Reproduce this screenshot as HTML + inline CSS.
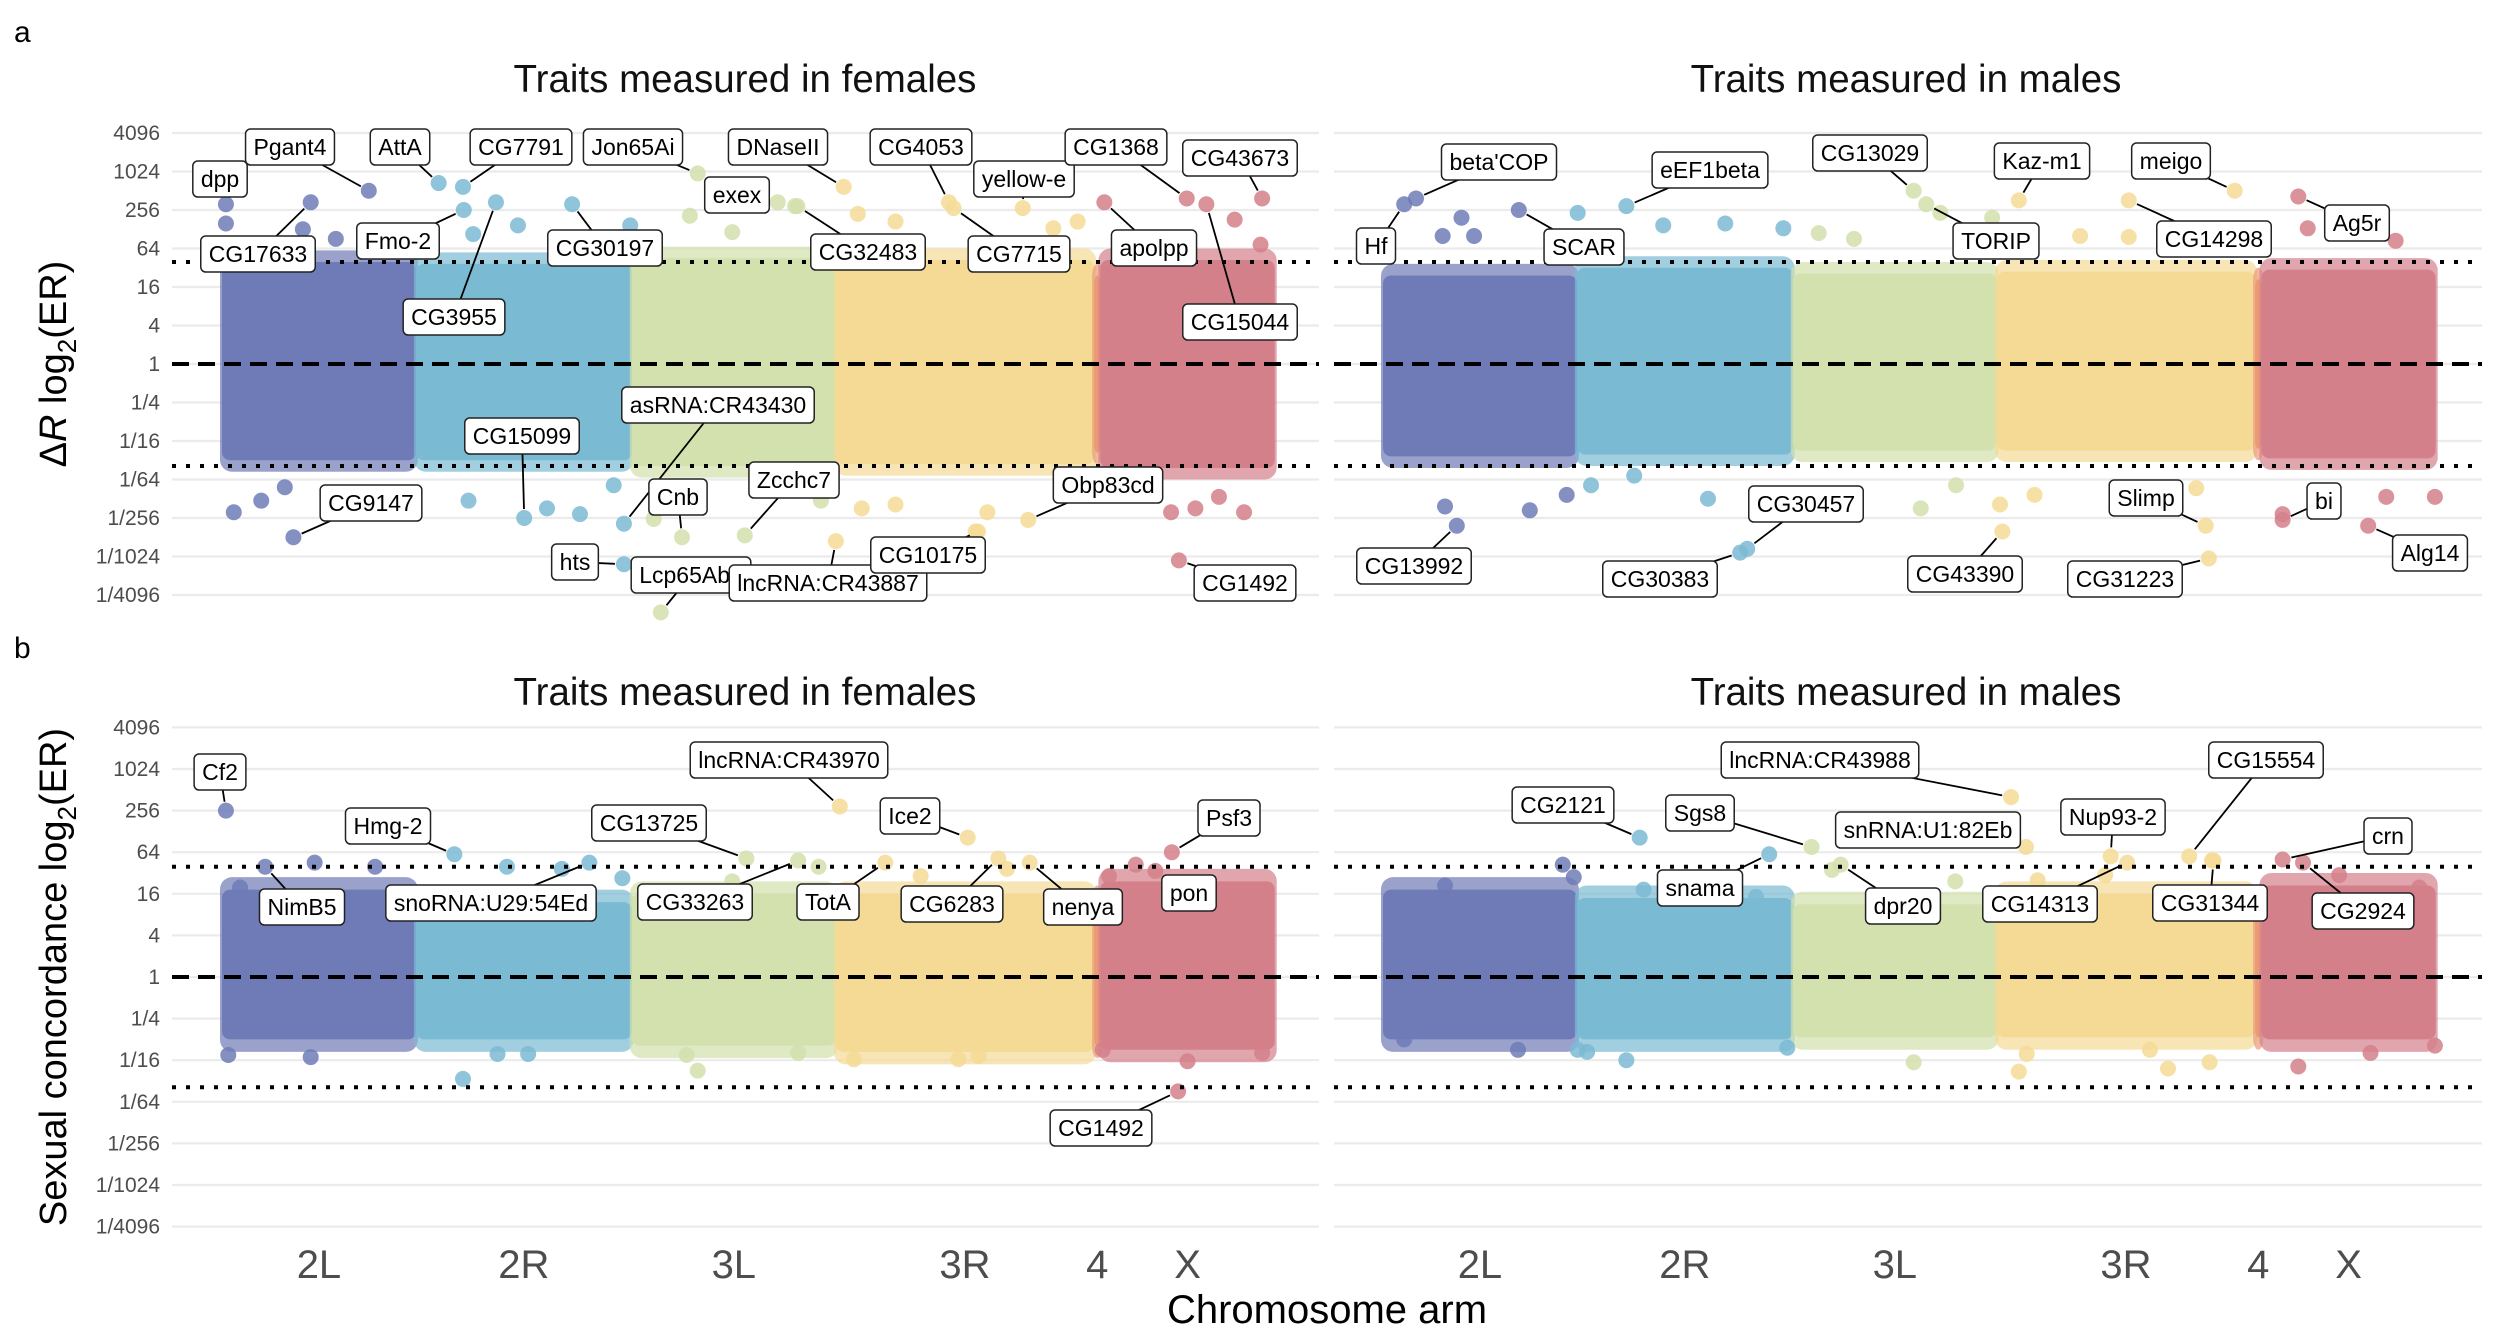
<!DOCTYPE html>
<html><head><meta charset="utf-8">
<style>
html,body{margin:0;padding:0;background:#fff;}
svg{display:block;font-family:"Liberation Sans",Arial,sans-serif;}
</style></head>
<body>
<svg id="chart" width="2496" height="1344" viewBox="0 0 2496 1344" xmlns="http://www.w3.org/2000/svg">
<text x="14" y="42" font-size="30" fill="#000">a</text>
<text x="14" y="658" font-size="30" fill="#000">b</text>
<text x="745" y="92" font-size="38.5" text-anchor="middle" fill="#111">Traits measured in females</text>
<text x="1906" y="92" font-size="38.5" text-anchor="middle" fill="#111">Traits measured in males</text>
<text x="745" y="705" font-size="38.5" text-anchor="middle" fill="#111">Traits measured in females</text>
<text x="1906" y="705" font-size="38.5" text-anchor="middle" fill="#111">Traits measured in males</text>
<text transform="translate(66,364) rotate(-90)" font-size="38" text-anchor="middle" fill="#000">Δ<tspan font-style="italic">R</tspan> log<tspan font-size="26" dy="10">2</tspan><tspan dy="-10">(ER)</tspan></text>
<text transform="translate(66,977) rotate(-90)" font-size="38" text-anchor="middle" fill="#000">Sexual concordance log<tspan font-size="26" dy="10">2</tspan><tspan dy="-10">(ER)</tspan></text>
<text x="1327" y="1323" font-size="40" text-anchor="middle" fill="#000">Chromosome arm</text>
<g id="layer"></g>
</svg>
<script>
// ---- data ----
var armNames = ["2L","2R","3L","3R","4","X"];
var armStart = [0, 24.7, 52.2, 78.2, 111.1, 111.9];
var armEnd   = [24.7, 52.2, 78.2, 111.1, 111.9, 134.1];
var armColors = ["#6f7bb7","#7bbad3","#d2e1ad","#f4da95","#eb9a78","#d4808a"];
var yTickVals = [12,10,8,6,4,2,0,-2,-4,-6,-8,-10,-12];
var yTickLabels = ["4096","1024","256","64","16","4","1","1/4","1/16","1/64","1/256","1/1024","1/4096"];
var thresholdHi = 5.3, thresholdLo = -5.3;

// band extents (upper, lower) per arm, in log2 units
var bandFa = [[5.3,-5.0],[5.2,-5.0],[5.5,-5.3],[5.4,-5.2],[4.6,-4.6],[5.4,-5.4]];
var bandMa = [[4.6,-4.8],[5.0,-4.7],[4.7,-4.5],[4.8,-4.5],[4.4,-4.4],[4.9,-4.9]];
var bandFb = [[4.2,-3.0],[3.6,-3.0],[4.0,-3.3],[4.0,-3.6],[3.8,-3.3],[4.6,-3.5]];
var bandMb = [[4.2,-3.0],[3.8,-3.0],[3.5,-2.9],[4.0,-2.9],[3.8,-2.9],[4.4,-3.0]];

// scattered points: positions (Mb-like cumulative) and values (log2)
var fringeFaPos = [0.5,10.3,14.5,1.5,5,32,37.7,52,31.4,41.4,45.6,49.9,59.6,73,65,55,76.3,85.8,109,81,105.9,81.5,85.8,97.5,96,129,132.3,120.9,124,130.2,127,20,8,60];
var fringeFaVal = [7.3,7.0,6.5,-7.7,-7.1,6.75,7.2,7.2,-7.1,-7.5,-7.8,-6.3,7.7,8.2,6.85,-8.05,-7.1,7.4,7.4,7.8,7.05,-7.5,-7.3,-7.7,-8.7,7.5,6.2,-7.7,-7.5,-7.7,-6.9,6.6,-6.4,-6.6];
var fringeMaPos = [10,11.6,7.6,24.8,35.7,43.6,51,55.5,71,77.6,88.8,117.8,129,7.9,18.7,23.4,26.5,32,41.4,68.5,73,78.6,83,134,127.8,114.6,103.6,60,95];
var fringeMaVal = [7.6,6.65,6.65,7.85,7.2,7.3,7.05,6.8,7.85,7.6,6.65,7.05,6.4,-7.4,-7.6,-6.8,-6.3,-5.8,-7.0,-7.5,-6.3,-7.3,-6.8,-6.9,-6.9,-7.8,-6.45,6.5,6.6];
var fringeFbPos = [11.8,19.5,2.3,36.3,43.3,51,76,89,116.4,113,0.8,11.3,30.7,35.1,39,60.6,59.2,73.4,80.5,93.8,96.4,112.2,123,132.5,100,65];
var fringeFbVal = [5.5,5.3,4.3,5.3,5.2,4.75,5.3,4.85,5.4,4.85,-3.75,-3.85,-4.9,-3.7,-3.7,-4.5,-3.75,-3.65,-3.95,-3.95,-3.8,-3.5,-4.05,-3.65,5.2,4.6];
var fringeMbPos = [22.9,24.3,7.9,33.2,47.5,57.2,72.9,83.4,105.6,121.8,132,2.7,17.2,24.8,31,26,51.5,67.6,81,82,97.7,105.3,116.6,125.8,134,92,100];
var fringeMbVal = [5.4,4.8,4.4,4.2,3.85,5.15,4.6,4.65,5.6,4.9,4.3,-3.0,-3.5,-3.5,-4.0,-3.6,-3.4,-4.1,-4.55,-3.7,-3.5,-4.1,-4.3,-3.65,-3.3,4.9,-4.4];

// labelled genes
var labFaNames = ["dpp","Pgant4","CG17633","AttA","CG7791","Fmo-2","CG3955","Jon65Ai","CG30197","exex","DNaseII","CG32483","CG4053","yellow-e","CG7715","CG1368","CG43673","apolpp","CG15044","asRNA:CR43430","CG15099","CG9147","Cnb","hts","Zcchc7","Lcp65Ab1","lncRNA:CR43887","CG10175","Obp83cd","CG1492"];
var labFaPos = [0.5,18.7,11.3,27.6,30.7,30.8,34.9,60.6,44.6,70.8,79.2,73.3,92.6,102,93.2,122.9,132.5,112.4,125.4,51.2,38.5,9.1,58.6,51.2,66.6,55.9,78.2,96.3,102.7,121.9];
var labFaVal = [8.3,9.0,8.4,9.4,9.2,8.0,8.4,9.9,8.3,8.4,9.2,8.2,8.4,8.1,8.1,8.6,8.6,8.4,8.3,-8.3,-8.0,-9.0,-9.0,-10.4,-8.9,-12.9,-9.2,-8.7,-8.1,-10.2];
var labMaNames = ["Hf","beta'COP","SCAR","eEF1beta","CG13029","TORIP","Kaz-m1","meigo","CG14298","Ag5r","CG13992","CG30457","CG30383","CG43390","Slimp","CG31223","bi","Alg14"];
var labMaPos = [2.7,4.2,17.3,31.0,67.6,69.2,81.0,108.5,95.0,116.6,9.4,46.4,45.5,78.9,104.8,105.2,114.6,125.5];
var labMaVal = [8.3,8.6,8.0,8.2,9.0,8.3,8.5,9.0,8.5,8.7,-8.4,-9.6,-9.8,-8.7,-8.4,-10.1,-8.1,-8.4];
var labFbNames = ["Cf2","NimB5","Hmg-2","snoRNA:U29:54Ed","CG13725","lncRNA:CR43970","CG33263","TotA","Ice2","CG6283","nenya","Psf3","pon","CG1492"];
var labFbPos = [0.5,5.5,29.6,46.8,66.8,78.7,73.4,84.5,95.0,98.9,102.9,121.0,118.9,121.8];
var labFbVal = [8.0,5.3,5.9,5.5,5.7,8.2,5.6,5.5,6.7,5.7,5.5,6.0,5.1,-5.5];
var labMbNames = ["CG2121","Sgs8","snama","lncRNA:CR43988","snRNA:U1:82Eb","dpr20","Nup93-2","CG14313","CG15554","CG31344","crn","CG2924"];
var labMbPos = [32.7,54.6,49.2,80,81.9,58.3,92.7,94.8,102.7,105.8,114.6,117.2];
var labMbVal = [6.7,6.25,5.9,8.65,6.25,5.4,5.8,5.5,5.8,5.6,5.65,5.5];

// ---- layout (label box centres in px, not data) ----
var boxFa = [[220,179],[290,147],[258,254],[400,147],[521,147],[398,241],[454,317],[633,147],[605,248],[737,195],[778,147],[868,252],[921,147],[1024,179],[1019,254],[1116,147],[1240,158],[1154,248],[1240,322],[718,405],[522,436],[371,503],[678,497],[575,562],[794,480],[691,575],[828,583],[928,555],[1108,485],[1245,583]];
var boxMa = [[1376,246],[1499,162],[1584,247],[1710,170],[1870,153],[1996,241],[2042,161],[2171,161],[2214,239],[2357,223],[1414,566],[1806,504],[1660,579],[1965,574],[2146,498],[2125,579],[2324,501],[2430,553]];
var boxFb = [[220,772],[302,907],[388,826],[491,903],[649,823],[789,760],[695,902],[828,902],[910,816],[952,904],[1083,907],[1229,818],[1189,893],[1101,1128]];
var boxMb = [[1563,805],[1700,813],[1700,888],[1820,760],[1928,830],[1903,906],[2113,817],[2040,904],[2266,760],[2210,903],[2388,836],[2363,911]];

var NS = "http://www.w3.org/2000/svg";
var layer = document.getElementById("layer");
function mk(tag, attrs, parent){
  var e = document.createElementNS(NS, tag);
  for (var k in attrs) e.setAttribute(k, attrs[k]);
  (parent||layer).appendChild(e);
  return e;
}
function xScale(pos, ox){ return ox + 222 + pos*7.85; }
function armOf(pos){ for (var i=armStart.length-1;i>=0;i--){ if(pos>=armStart[i]) return i; } return 0; }

var panels = [
  {key:"fa", ox:0, y0:364, unit:19.25, band:bandFa, fp:fringeFaPos, fv:fringeFaVal, ln:labFaNames, lp:labFaPos, lv:labFaVal, bx:boxFa, ticks:true, xlab:false},
  {key:"ma", ox:1161, y0:364, unit:19.25, band:bandMa, fp:fringeMaPos, fv:fringeMaVal, ln:labMaNames, lp:labMaPos, lv:labMaVal, bx:boxMa, ticks:false, xlab:false},
  {key:"fb", ox:0, y0:977, unit:20.8, band:bandFb, fp:fringeFbPos, fv:fringeFbVal, ln:labFbNames, lp:labFbPos, lv:labFbVal, bx:boxFb, ticks:true, xlab:true},
  {key:"mb", ox:1161, y0:977, unit:20.8, band:bandMb, fp:fringeMbPos, fv:fringeMbVal, ln:labMbNames, lp:labMbPos, lv:labMbVal, bx:boxMb, ticks:false, xlab:true}
];

panels.forEach(function(p){
  var g = mk("g", {});
  
  
  function yS(v){ return p.y0 - v*p.unit; }
  var gx0 = 172, gx1 = 1319;
  if (p.ox) { gx0 = 1334; gx1 = 2482; }
  yTickVals.forEach(function(v,i){
    var l = mk("line", {x1:gx0, x2:gx1, y1:yS(v), y2:yS(v), stroke:"#ebebeb", "stroke-width":2.2}, g);
    
    
    if (p.ticks){
      var t = mk("text", {x:160, y:yS(v)+7, "font-size":21, "text-anchor":"end", fill:"#4d4d4d"}, g);
      t.textContent = yTickLabels[i];
      
      
    }
  });
  armNames.forEach(function(a,i){
    var x0 = xScale(armStart[i], p.ox), x1 = xScale(armEnd[i], p.ox);
    var up = yS(p.band[i][0]), lo = yS(p.band[i][1]);
    var halo = mk("rect", {x:x0-2, y:up-p.unit*0.6, width:x1-x0+4, height:lo-up+p.unit*1.2, rx:12, fill:armColors[i], opacity:0.7}, g);
    
    
    var r = mk("rect", {x:x0, y:up, width:x1-x0, height:lo-up, rx:8, fill:armColors[i]}, g);
    
    
    if (p.xlab){
      var t = mk("text", {x:(x0+x1)/2, y:1278, "font-size":40, "text-anchor":"middle", fill:"#4d4d4d"}, g);
      t.textContent = a;
      
      
    }
  });
  p.fp.forEach(function(pos,i){
    var c = mk("circle", {cx:xScale(pos,p.ox), cy:yS(p.fv[i]), r:8, fill:armColors[armOf(pos)], opacity:0.85}, g);
    
    
  });
  p.lp.forEach(function(pos,i){
    var c = mk("circle", {cx:xScale(pos,p.ox), cy:yS(p.lv[i]), r:8, fill:armColors[armOf(pos)], opacity:0.85}, g);
    
    
  });
  var d = mk("line", {x1:gx0, x2:gx1, y1:yS(0), y2:yS(0), stroke:"#000", "stroke-width":4, "stroke-dasharray":"17 9"}, g);
  
  
  [thresholdHi, thresholdLo].forEach(function(v){
    var l = mk("line", {x1:gx0, x2:gx1, y1:yS(v), y2:yS(v), stroke:"#000", "stroke-width":4, "stroke-dasharray":"4 10"}, g);
    
    
  });
  p.ln.forEach(function(n,i){
    var px = xScale(p.lp[i],p.ox), py = yS(p.lv[i]);
    var bx = p.bx[i][0], by = p.bx[i][1];
    var dx = px-bx, dy = py-by, len = Math.sqrt(dx*dx+dy*dy)||1;
    var l = mk("line", {x1:bx, y1:by, x2:px-dx/len*9, y2:py-dy/len*9, stroke:"#000", "stroke-width":1.8}, g);
    
    
  });
  p.ln.forEach(function(n,i){
    var bx = p.bx[i][0], by = p.bx[i][1];
    var lg = mk("g", {}, g);
    
    
    var r = mk("rect", {x:bx-30, y:by-18, width:60, height:36, rx:5, fill:"#fff", stroke:"#222", "stroke-width":1.5}, lg);
    
    
    var t = mk("text", {x:bx, y:by+8, "font-size":23, "text-anchor":"middle", fill:"#000"}, lg);
    t.textContent = n;
    
    
    var w = t.getComputedTextLength ? t.getComputedTextLength() : n.length*12;
    r.setAttribute("x", bx - w/2 - 8);
    r.setAttribute("width", w + 16);
  });
});
</script>
</body></html>
